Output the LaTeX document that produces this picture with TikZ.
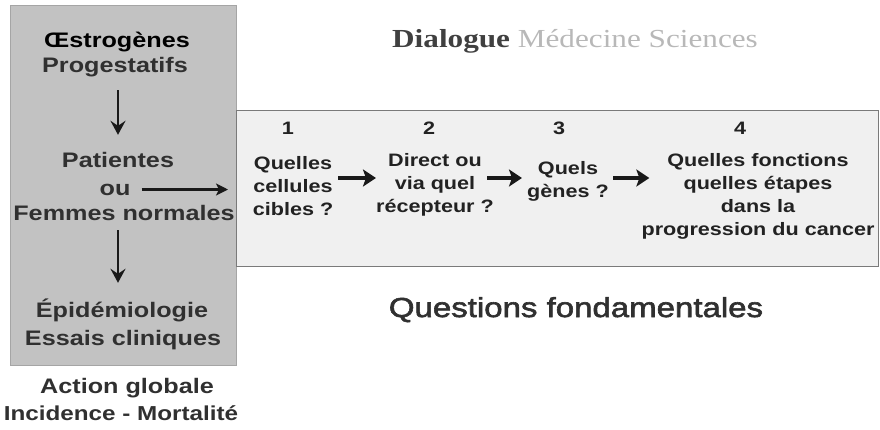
\documentclass[tikz,border=0pt]{standalone}
\usepackage{fontspec}
\setmainfont{Liberation Sans}[FakeStretch=1.2]
\newfontfamily\tserif{Liberation Serif}[FakeStretch=1.2]
\newfontfamily\medsans{Liberation Sans}[FakeStretch=1.2, FakeBold=2.2]
\usetikzlibrary{arrows.meta}
\definecolor{boxgray}{HTML}{C2C2C2}
\definecolor{boxlight}{HTML}{F0F0F0}
\definecolor{boxedge}{HTML}{7A7A7A}
\definecolor{txt}{HTML}{303030}
\definecolor{txtr}{HTML}{222222}
\definecolor{titdark}{HTML}{404040}
\definecolor{titlight}{HTML}{B8B8B8}
\newcommand{\mylines}[1]{\begin{tabular}[t]{@{}c@{}}#1\end{tabular}}
\tikzset{
  lefttxt/.style={anchor=base, inner sep=0pt, text=txt, text height=15pt, text depth=4pt,
    font=\fontsize{21}{25}\selectfont\bfseries},
  righttxt/.style={anchor=base, inner sep=0pt, text=txtr,
    font=\fontsize{18}{23}\selectfont\bfseries},
  numtxt/.style={anchor=base, inner sep=0pt, text=txtr,
    font=\fontsize{18}{23}\selectfont\bfseries},
  darr/.style={draw=black!90, line width=2.6pt, -{Stealth[length=14pt,width=15pt,inset=5pt]}},
  harr/.style={draw=black!90, line width=2.6pt, -{Stealth[length=12pt,width=12pt,inset=3pt]}},
  rarr/.style={draw=black!90, line width=4.2pt, -{Stealth[length=13pt,width=17pt,inset=3pt]}},
}
\begin{document}
\begin{tikzpicture}[x=1pt,y=-1pt]
\useasboundingbox (0,0) rectangle (880,429);
% boxes
\node[fill=boxgray, draw=boxgray!85!black, line width=0.6pt, inner sep=0pt, anchor=north west,
  minimum width=226pt, minimum height=360pt] (gbox) at (10,5) {};
\node[fill=boxlight, draw=boxedge, line width=1.2pt, inner sep=0pt, anchor=north west,
  minimum width=642pt, minimum height=156pt] (qbox) at (236,110) {};
% title
\node[anchor=base west, inner sep=0pt, font=\tserif\fontsize{26}{30}\selectfont] (title) at (392,47)
  {\textcolor{titdark}{\bfseries Dialogue} \textcolor{titlight}{M\'edecine Sciences}};
% left column
\node[lefttxt, text=black] (oes) at (117,47) {Œstrogènes};
\node[lefttxt] (prog) at (115,72) {Progestatifs};
\node[lefttxt] (pat) at (118,167) {Patientes};
\node[lefttxt] (ou) at (115,195) {ou};
\node[lefttxt] (fem) at (124,220) {Femmes normales};
\node[lefttxt] (epi) at (122,317) {Épidémiologie};
\node[lefttxt] (ess) at (123,345) {Essais cliniques};
\node[lefttxt] (act) at (127,393) {Action globale};
\node[lefttxt, font=\fontsize{20.2}{25}\selectfont\bfseries] (inc) at (121,420) {Incidence - Mortalité};
\draw[darr, shorten <=14pt, shorten >=17pt] (prog.south -| pat.north) -- (pat.north);
\draw[darr, shorten <=6pt, shorten >=19pt] (fem.south -| pat.north) -- (epi.north -| pat.north);
\draw[harr, shorten <=11pt, shorten >=8pt] (ou.east) -- (qbox.west |- ou.east);
% right column
\node[numtxt] (n1) at (288,134.5) {1};
\node[numtxt] (n2) at (429,134.5) {2};
\node[numtxt] (n3) at (559,134.5) {3};
\node[numtxt] (n4) at (740,134.5) {4};
\node[righttxt] (q1) at (293,169.5) {\mylines{Quelles\\cellules\\cibles ?}};
\node[righttxt] (q2) at (435,166.5) {\mylines{Direct ou\\via quel\\récepteur ?}};
\node[righttxt] (q3) at (568,174.5) {\mylines{Quels\\gènes ?}};
\node[righttxt] (q4) at (758,166.5) {\mylines{Quelles fonctions\\quelles étapes\\dans la\\progression du cancer}};
\coordinate (ay) at (0,178);
\draw[rarr, shorten <=5pt] (q1.east |- ay) -- (q2.west |- ay);
\draw[rarr, shorten <=-7pt, shorten >=5pt] (q2.east |- ay) -- (q3.west |- ay);
\draw[rarr, shorten <=4pt, shorten >=-8pt] (q3.east |- ay) -- (q4.west |- ay);
\node[anchor=base, inner sep=0pt, text=txt, font=\medsans\fontsize{27.5}{30}\selectfont] (qf) at (576,317) {Questions fondamentales};
\end{tikzpicture}
\end{document}
